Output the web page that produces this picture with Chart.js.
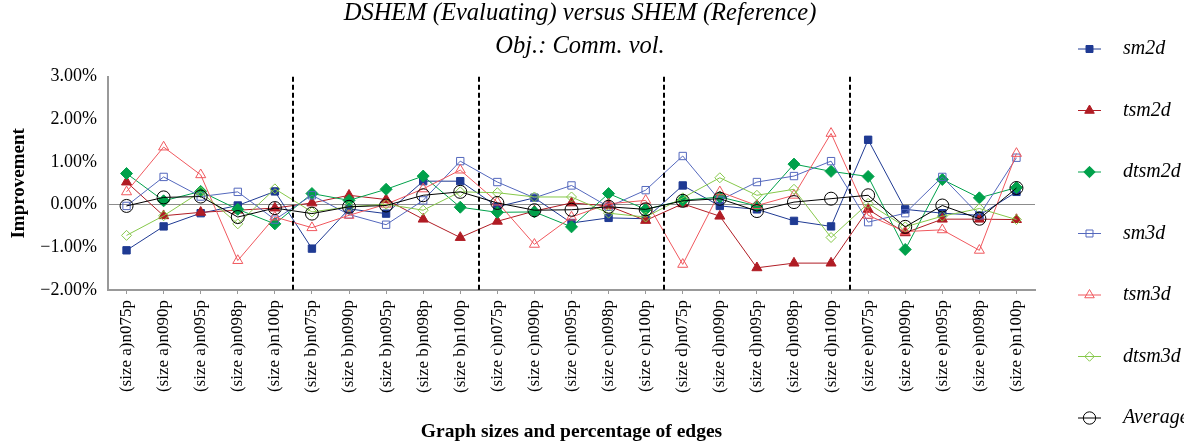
<!DOCTYPE html>
<html>
<head>
<meta charset="utf-8">
<script src="https://cdn.jsdelivr.net/npm/chart.js@4/dist/chart.umd.min.js"></script>
<style>
  body { margin: 0; background: #fff; }
  canvas { display: block; }
</style>
</head>
<body>
<canvas id="chart" width="1184" height="444"></canvas>
<script>
const sizes = ["a", "b", "c", "d", "e"];
const edges = ["075", "090", "095", "098", "100"];
const labels = [];
sizes.forEach((s) => edges.forEach((e) => labels.push("(size " + s + ")n" + e + "p")));

const seriesNames = ["sm2d", "tsm2d", "dtsm2d", "sm3d", "tsm3d", "dtsm3d", "Average"];

// values in percent
const sm2d = [-1.07, -0.51, -0.20, -0.02, 0.31, -1.03, -0.10, -0.21, 0.55, 0.55, -0.05, 0.16, -0.43, -0.31, -0.33, 0.45, -0.03, -0.11, -0.38, -0.51, 1.52, -0.11, -0.20, -0.25, 0.30];
const tsm2d = [0.53, -0.26, -0.18, -0.13, -0.08, 0.04, 0.22, 0.12, -0.34, -0.77, -0.39, -0.15, 0.04, -0.03, -0.37, 0.02, -0.27, -1.48, -1.37, -1.37, -0.11, -0.66, -0.34, -0.34, -0.35];
const dtsm2d = [0.73, 0.09, 0.31, -0.11, -0.45, 0.26, 0.10, 0.36, 0.67, -0.06, -0.18, -0.17, -0.52, 0.26, -0.11, 0.10, 0.18, -0.03, 0.95, 0.78, 0.66, -1.05, 0.59, 0.16, 0.40];
const sm3d = [-0.03, 0.65, 0.19, 0.30, -0.35, 0.22, -0.23, -0.47, 0.10, 1.02, 0.53, 0.16, 0.45, -0.05, 0.34, 1.14, 0.10, 0.53, 0.67, 1.02, -0.41, -0.20, 0.65, -0.25, 1.10];
const tsm3d = [0.30, 1.35, 0.70, -1.31, -0.29, -0.54, -0.25, 0.01, 0.37, 0.81, 0.06, -0.93, -0.29, 0.02, 0.10, -1.40, 0.30, -0.02, 0.22, 1.67, -0.25, -0.63, -0.59, -1.07, 1.20];
const dtsm3d = [-0.72, -0.26, 0.30, -0.45, 0.37, -0.17, -0.05, 0.01, -0.13, 0.30, 0.28, 0.18, 0.18, -0.20, -0.29, 0.16, 0.63, 0.22, 0.36, -0.77, 0.03, -0.52, -0.27, -0.09, -0.35];
const average = [-0.03, 0.17, 0.19, -0.29, -0.08, -0.21, -0.05, -0.02, 0.22, 0.30, 0.04, -0.13, -0.12, -0.05, -0.11, 0.09, 0.14, -0.15, 0.06, 0.14, 0.22, -0.52, -0.02, -0.33, 0.39];

const yTicks = [-2, -1, 0, 1, 2, 3];
const separators = [4.5, 9.5, 14.5, 19.5];

const serif = "'Liberation Serif', 'DejaVu Serif', serif";

function series(label, data, color, style, radius, filled, i) {
  return {
    label,
    data,
    borderColor: color,
    backgroundColor: filled ? color : "rgba(0,0,0,0)",
    pointBorderColor: color,
    pointBackgroundColor: filled ? color : "rgba(0,0,0,0)",
    pointStyle: style,
    pointRadius: radius,
    pointBorderWidth: 1,
    borderWidth: 1,
    tension: 0,
    order: 7 - i,
  };
}

const datasets = [
  series(seriesNames[0], sm2d, "#1f3a93", "rect", 5.2, true, 0),
  series(seriesNames[1], tsm2d, "#b01c24", "triangle", 5.8, true, 1),
  series(seriesNames[2], dtsm2d, "#00a14b", "rectRot", 6, true, 2),
  series(seriesNames[3], sm3d, "#5468bd", "rect", 5.2, false, 3),
  series(seriesNames[4], tsm3d, "#f0585e", "triangle", 5.8, false, 4),
  series(seriesNames[5], dtsm3d, "#86c84a", "rectRot", 5, false, 5),
  series(seriesNames[6], average, "#000000", "circle", 6.5, false, 6),
];

// dashed group separators
const separatorPlugin = {
  id: "separators",
  afterDatasetsDraw(chart) {
    const { ctx, chartArea, scales } = chart;
    ctx.save();
    ctx.strokeStyle = "#000";
    ctx.lineWidth = 2;
    ctx.setLineDash([5, 3]);
    separators.forEach((v) => {
      const x = Math.round(scales.x.getPixelForValue(v));
      ctx.beginPath();
      ctx.moveTo(x, chartArea.top);
      ctx.lineTo(x, chartArea.bottom);
      ctx.stroke();
    });
    ctx.restore();
  },
};

// legend on the right, one entry every ~61px
const legendPlugin = {
  id: "sideLegend",
  afterDraw(chart) {
    const { ctx } = chart;
    ctx.save();
    chart.data.datasets.forEach((ds, i) => {
      const y = 49 + i * 61.5;
      ctx.strokeStyle = ds.borderColor;
      ctx.lineWidth = 1;
      ctx.setLineDash([]);
      ctx.beginPath();
      ctx.moveTo(1078, y);
      ctx.lineTo(1101, y);
      ctx.stroke();
      ctx.fillStyle = ds.pointBackgroundColor;
      Chart.helpers.drawPoint(ctx, {
        pointStyle: ds.pointStyle,
        radius: ds.pointRadius * 0.95,
        borderWidth: 1,
        rotation: 0,
      }, 1089.5, y);
      ctx.fillStyle = "#000";
      ctx.font = "italic 20px " + serif;
      ctx.textBaseline = "middle";
      ctx.textAlign = "left";
      ctx.fillText(ds.label, 1123, y);
    });
    ctx.restore();
  },
};

new Chart(document.getElementById("chart"), {
  type: "line",
  data: { labels, datasets },
  options: {
    responsive: false,
    animation: false,
    devicePixelRatio: 1,
    layout: { padding: { left: 0, right: 24, top: 0, bottom: 0 } },
    plugins: {
      legend: { display: false },
      tooltip: { enabled: false },
      title: {
        display: true,
        text: ["DSHEM (Evaluating) versus SHEM (Reference)", "Obj.: Comm. vol."],
        font: { family: serif, size: 24.5, style: "italic", weight: "normal", lineHeight: 1.36 },
        color: "#000",
        padding: { top: -3, bottom: 13 },
      },
    },
    scales: {
      x: {
        type: "category",
        offset: true,
        afterFit: (s) => { s.height = 154; },
        grid: { display: true, drawOnChartArea: false, offset: false, tickLength: 4, color: "#999" },
        border: { color: "#999", width: 2 },
        ticks: {
          color: "#000",
          font: { family: serif, size: 17 },
          minRotation: 90,
          maxRotation: 90,
          autoSkip: false,
          padding: 6,
        },
        title: {
          display: true,
          text: "Graph sizes and percentage of edges",
          color: "#000",
          font: { family: serif, size: 19.5, weight: "bold" },
          padding: { top: 0, bottom: 0 },
        },
      },
      y: {
        min: yTicks[0],
        max: yTicks[yTicks.length - 1],
        afterFit: (s) => { s.width = 108; },
        afterBuildTicks: (s) => { s.ticks = yTicks.map((v) => ({ value: v })); },
        grid: {
          drawTicks: false,
          color: (c) => (c.tick && c.tick.value === 0 ? "#8c8c8c" : "rgba(0,0,0,0)"),
          lineWidth: 1,
        },
        border: { color: "#999", width: 2 },
        ticks: {
          color: "#000",
          font: { family: serif, size: 18 },
          padding: 11,
          callback: (v) => (v < 0 ? "\u2212" : "") + Math.abs(v).toFixed(2) + "%",
        },
        title: {
          display: true,
          text: "Improvement",
          color: "#000",
          font: { family: serif, size: 19, weight: "bold" },
          padding: { top: 8, bottom: 0 },
        },
      },
      yR: {
        position: "right",
        display: true,
        afterFit: (s) => { s.width = 125; },
        ticks: { display: false },
        grid: { display: false },
        border: { display: false },
      },
    },
  },
  plugins: [separatorPlugin, legendPlugin],
});
</script>
</body>
</html>
